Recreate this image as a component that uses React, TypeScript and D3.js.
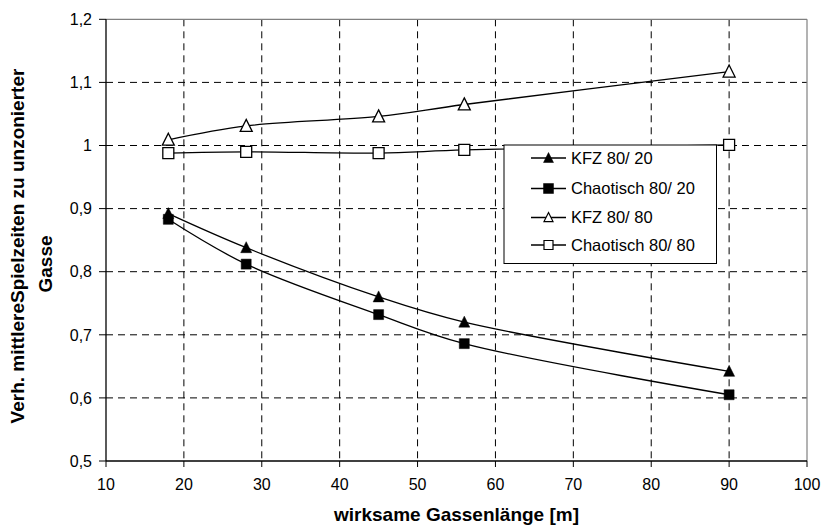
import * as d3 from "d3";

const W = 821;
const H = 527;

// Gassenlänge [m]
const xValues = [18, 28, 45, 56, 90];
const kfz8020 = [0.892, 0.838, 0.76, 0.72, 0.642];
const chaos8020 = [0.883, 0.812, 0.732, 0.686, 0.605];
const kfz8080 = [1.009, 1.031, 1.046, 1.065, 1.117];
const chaos8080 = [0.988, 0.99, 0.988, 0.993, 1.001];

const xTicks = [10, 20, 30, 40, 50, 60, 70, 80, 90, 100];
const yTicks = [0.5, 0.6, 0.7, 0.8, 0.9, 1.0, 1.1, 1.2];
const yTickLabels = ["0,5", "0,6", "0,7", "0,8", "0,9", "1", "1,1", "1,2"];

const seriesNames = ["KFZ 80/ 20", "Chaotisch 80/ 20", "KFZ 80/ 80", "Chaotisch 80/ 80"];

const font = "Arial, 'Liberation Sans', sans-serif";

type Marker = "tri" | "sq";

function markerPath(kind: Marker, cx: number, cy: number, s: number) {
  if (kind === "tri") {
    const h = s;
    return `M${cx},${cy - h * 0.55}L${cx + s / 2},${cy + h * 0.45}L${cx - s / 2},${cy + h * 0.45}Z`;
  }
  return `M${cx - s / 2},${cy - s / 2}h${s}v${s}h${-s}Z`;
}

export default function App() {
  const x = d3.scaleLinear().domain([10, 100]).range([106, 807]);
  const y = d3.scaleLinear().domain([0.5, 1.2]).range([461, 19.3]);

  const series = [
    { name: seriesNames[0], values: kfz8020, marker: "tri" as Marker, filled: true },
    { name: seriesNames[1], values: chaos8020, marker: "sq" as Marker, filled: true },
    { name: seriesNames[2], values: kfz8080, marker: "tri" as Marker, filled: false },
    { name: seriesNames[3], values: chaos8080, marker: "sq" as Marker, filled: false },
  ];

  const line = d3
    .line<[number, number]>()
    .x((d) => x(d[0]))
    .y((d) => y(d[1]))
    .curve(d3.curveCatmullRom.alpha(0.5));

  const [x0, x1] = x.range();
  const [y0, y1] = y.range();

  const legendX = 504;
  const legendY = 145;
  const legendRows = [158, 188.5, 217.5, 245];

  return (
    <svg
      width={W}
      height={H}
      style={{ position: "absolute", left: 0, top: 0, background: "#fff" }}
      fontFamily={font}
    >
      <rect width={W} height={H} fill="#fff" />

      {/* grid */}
      {xTicks.slice(1, -1).map((t) => (
        <line key={"gx" + t} x1={x(t)} x2={x(t)} y1={y1} y2={y0} stroke="#000" strokeDasharray="7,5" strokeWidth={1} />
      ))}
      {yTicks.slice(1, -1).map((t) => (
        <line key={"gy" + t} x1={x0} x2={x1} y1={y(t)} y2={y(t)} stroke="#000" strokeDasharray="7,5" strokeWidth={1} />
      ))}

      {/* plot border top/right */}
      <line x1={x0} x2={x1} y1={y1} y2={y1} stroke="#808080" strokeWidth={1.2} />
      <line x1={x1} x2={x1} y1={y1} y2={y0} stroke="#808080" strokeWidth={1.2} />

      {/* axes */}
      <line x1={x0} x2={x0} y1={y1} y2={y0} stroke="#000" strokeWidth={1.3} />
      <line x1={x0} x2={x1} y1={y0} y2={y0} stroke="#000" strokeWidth={1.3} />
      {yTicks.map((t, i) => (
        <g key={"yt" + t}>
          <line x1={x0 - 7} x2={x0} y1={y(t)} y2={y(t)} stroke="#000" strokeWidth={1} />
          <text x={92} y={y(t)} dy="0.36em" textAnchor="end" fontSize={16} fill="#000">
            {yTickLabels[i]}
          </text>
        </g>
      ))}
      {xTicks.map((t) => (
        <g key={"xt" + t}>
          <line x1={x(t)} x2={x(t)} y1={y0} y2={y0 + 6} stroke="#000" strokeWidth={1} />
          <text x={x(t)} y={490} textAnchor="middle" fontSize={16} fill="#000">
            {t}
          </text>
        </g>
      ))}

      {/* series lines */}
      {series.map((s) => (
        <path
          key={"l" + s.name}
          d={line(xValues.map((v, i) => [v, s.values[i]] as [number, number])) || ""}
          fill="none"
          stroke="#000"
          strokeWidth={1.3}
        />
      ))}

      {/* markers */}
      {series.map((s) =>
        xValues.map((v, i) => (
          <path
            key={"m" + s.name + i}
            d={markerPath(s.marker, x(v), y(s.values[i]), s.marker === "tri" ? (s.filled ? 11 : 12) : s.filled ? 10 : 11)}
            fill={s.filled ? "#000" : "#fff"}
            stroke="#000"
            strokeWidth={s.filled ? 0.5 : 1.3}
          />
        ))
      )}

      {/* legend */}
      <rect x={legendX} y={legendY} width={212.5} height={118.5} fill="#fff" stroke="#000" strokeWidth={1} />
      {series.map((s, i) => {
        const cy = legendRows[i];
        return (
          <g key={"lg" + s.name}>
            <line x1={531} x2={566} y1={cy} y2={cy} stroke="#000" strokeWidth={1.3} />
            <path
              d={markerPath(s.marker, 548.5, cy, s.filled ? 10 : 9)}
              fill={s.filled ? "#000" : "#fff"}
              stroke="#000"
              strokeWidth={s.filled ? 0.5 : 1.2}
            />
            <text x={571} y={cy} dy="0.36em" fontSize={16.5} fill="#000">
              {s.name}
            </text>
          </g>
        );
      })}

      {/* axis titles */}
      <text x={(x0 + x1) / 2} y={521} textAnchor="middle" fontSize={19} fontWeight="bold" fill="#000">
        wirksame Gassenlänge [m]
      </text>
      <text transform={`translate(24,246) rotate(-90)`} textAnchor="middle" fontSize={19} fontWeight="bold" fill="#000">
        Verh. mittlereSpielzeiten zu unzonierter
      </text>
      <text transform={`translate(52,264) rotate(-90)`} textAnchor="middle" fontSize={19} fontWeight="bold" fill="#000">
        Gasse
      </text>
    </svg>
  );
}
